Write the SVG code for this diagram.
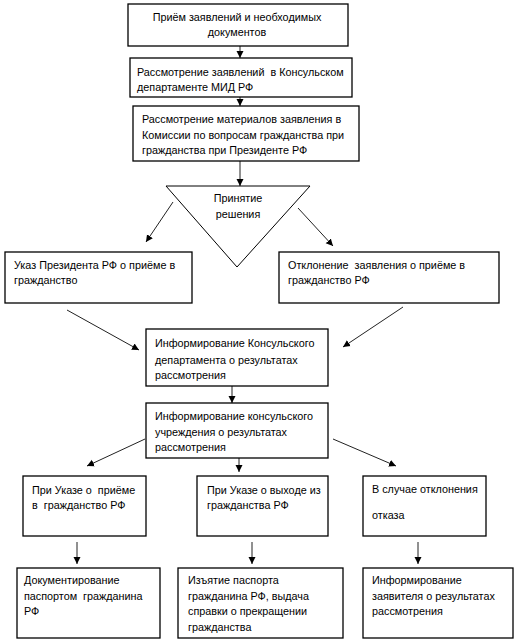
<svg xmlns="http://www.w3.org/2000/svg" width="519" height="643" viewBox="0 0 519 643">
<style>
.box{fill:#fff;stroke:#000;stroke-width:1.3}
.t{font-family:"Liberation Sans",Arial,sans-serif;font-size:10.8px;fill:#000;white-space:pre}
.c{text-anchor:middle}
.ln{stroke:#222;stroke-width:1;fill:none;marker-end:url(#ah)}
</style>
<defs>
<marker id="ah" markerWidth="8" markerHeight="8" refX="7" refY="4" orient="auto" markerUnits="userSpaceOnUse">
<path d="M0,0.5 L7,4 L0,7.5 Z" fill="#000"/>
</marker>
</defs>
<rect width="519" height="643" fill="#fff"/>
<g id="connectors">
<line class="ln" x1="240" y1="46" x2="240" y2="58"/>
<line class="ln" x1="240" y1="97" x2="240" y2="106"/>
<line class="ln" x1="240" y1="161" x2="240" y2="186"/>
<line class="ln" x1="173" y1="202" x2="146" y2="242"/>
<line class="ln" x1="298" y1="208" x2="333" y2="246"/>
<line class="ln" x1="67" y1="310" x2="139" y2="350"/>
<line class="ln" x1="403" y1="307" x2="343" y2="347"/>
<line class="ln" x1="232" y1="386" x2="232" y2="403"/>
<line class="ln" x1="145" y1="439" x2="87" y2="466"/>
<line class="ln" x1="239" y1="458" x2="239" y2="472"/>
<line class="ln" x1="333" y1="439" x2="396" y2="466"/>
<line class="ln" x1="77" y1="542" x2="77" y2="564"/>
<line class="ln" x1="252" y1="542" x2="252" y2="564"/>
<line class="ln" x1="418" y1="542" x2="418" y2="564"/>
</g>
<g id="n1"><rect class="box" x="128" y="4" width="220" height="42"/>
<text class="t c" x="237" y="21">Приём заявлений и необходимых</text>
<text class="t c" x="237" y="36">документов</text></g>
<g id="n2"><rect class="box" x="130" y="58" width="222" height="39"/>
<text class="t" x="137" y="76">Рассмотрение заявлений  в Консульском</text>
<text class="t" x="137" y="91">департаменте МИД РФ</text></g>
<g id="n3"><rect class="box" x="133" y="106" width="226" height="55"/>
<text class="t" x="142" y="123">Рассмотрение материалов заявления в</text>
<text class="t" x="142" y="139">Комиссии по вопросам гражданства при</text>
<text class="t" x="142" y="154">гражданства при Президенте РФ</text></g>
<g id="decision"><polygon points="166,186 310,186 237,267" fill="#fff" stroke="#000" stroke-width="1"/>
<text class="t c" x="238" y="202">Принятие</text>
<text class="t c" x="238" y="218">решения</text></g>
<g id="n4"><rect class="box" x="5" y="252" width="187" height="51"/>
<text class="t" x="14" y="269">Указ Президента РФ о приёме в</text>
<text class="t" x="14" y="284">гражданство</text></g>
<g id="n5"><rect class="box" x="279" y="252" width="220" height="51"/>
<text class="t" x="288" y="269">Отклонение  заявления о приёме в</text>
<text class="t" x="288" y="284">гражданство РФ</text></g>
<g id="n6"><rect class="box" x="146" y="329" width="182" height="57"/>
<text class="t" x="155" y="347">Информирование Консульского</text>
<text class="t" x="155" y="364">департамента о результатах</text>
<text class="t" x="155" y="379">рассмотрения</text></g>
<g id="n7"><rect class="box" x="146" y="403" width="182" height="55"/>
<text class="t" x="155" y="420">Информирование консульского</text>
<text class="t" x="155" y="436">учреждения о результатах</text>
<text class="t" x="155" y="451">рассмотрения</text></g>
<g id="n8"><rect class="box" x="23" y="476" width="123" height="60"/>
<text class="t" x="32" y="494">При Указе о  приёме</text>
<text class="t" x="32" y="509">в  гражданство РФ</text></g>
<g id="n9"><rect class="box" x="197" y="476" width="131" height="60"/>
<text class="t" x="207" y="494">При Указе о выходе из</text>
<text class="t" x="207" y="509">гражданства РФ</text></g>
<g id="n10"><rect class="box" x="363" y="476" width="123" height="60"/>
<text class="t" x="372" y="493">В случае отклонения</text>
<text class="t" x="372" y="519">отказа</text></g>
<g id="n11"><rect class="box" x="17" y="568" width="143" height="70"/>
<text class="t" x="24" y="584">Документирование</text>
<text class="t" x="24" y="600">паспортом  гражданина</text>
<text class="t" x="24" y="615">РФ</text></g>
<g id="n12"><rect class="box" x="178" y="568" width="165" height="70"/>
<text class="t" x="188" y="584">Изъятие паспорта</text>
<text class="t" x="188" y="600">гражданина РФ, выдача</text>
<text class="t" x="188" y="615">справки о прекращении</text>
<text class="t" x="188" y="631">гражданства</text></g>
<g id="n13"><rect class="box" x="363" y="568" width="150" height="70"/>
<text class="t" x="372" y="584">Информирование</text>
<text class="t" x="372" y="600">заявителя о результатах</text>
<text class="t" x="372" y="615">рассмотрения</text></g>
</svg>
